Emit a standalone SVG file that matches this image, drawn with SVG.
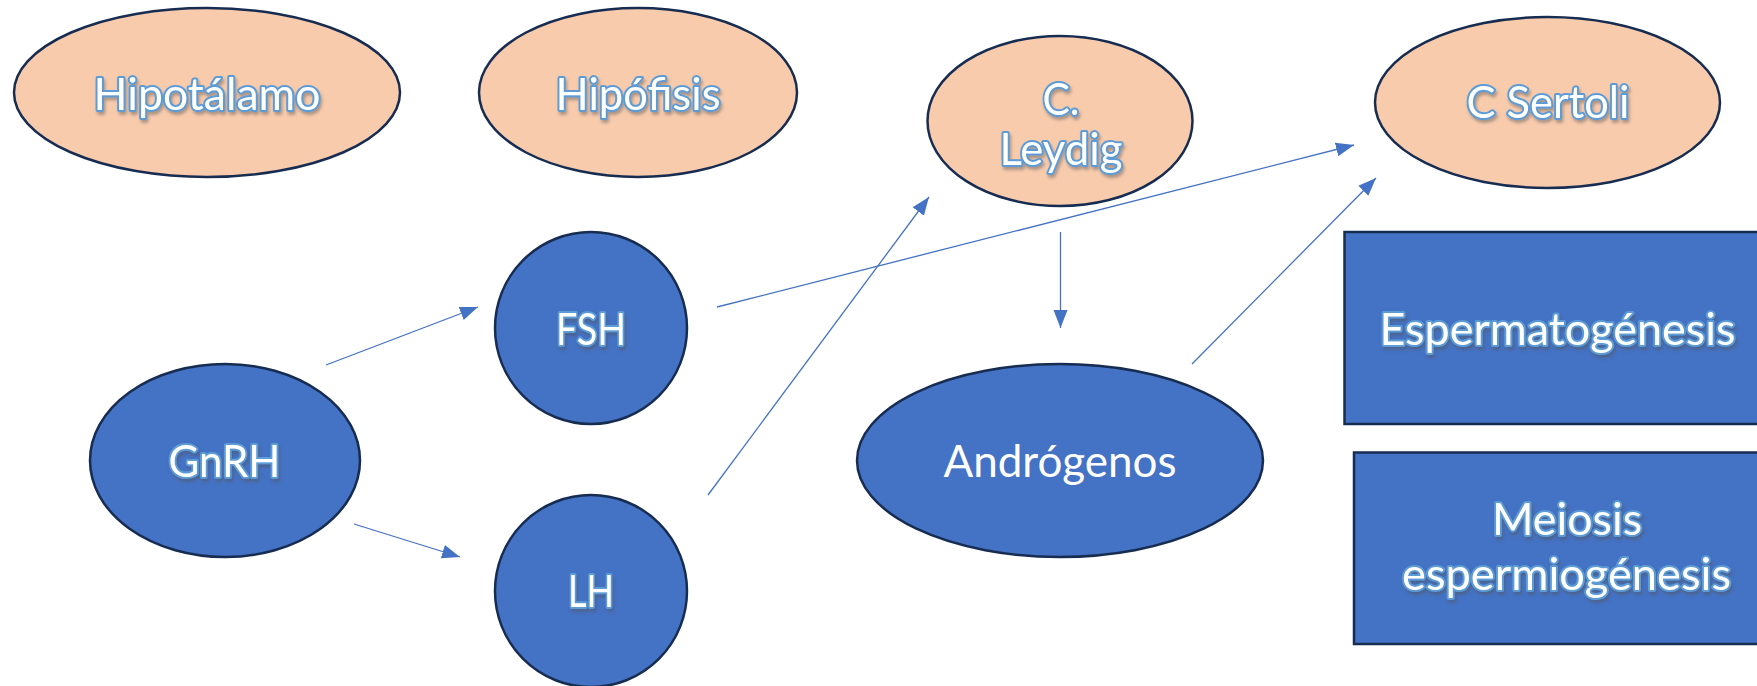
<svg xmlns="http://www.w3.org/2000/svg" width="1757" height="686" viewBox="0 0 1757 686">
<defs>
<style>
.orange{fill:#F8CBAD;stroke:#172C51;stroke-width:2.5}
.blue{fill:#4472C4;stroke:#172C51;stroke-width:2.5}
.lbl{font-family:Lato,"Open Sans","Liberation Sans",sans-serif;font-size:45px;text-anchor:middle;fill:#FFFFFF;stroke:#5B9BD5;stroke-width:4;stroke-linejoin:round;paint-order:stroke;filter:url(#sh)}
.plain{font-family:Lato,"Open Sans","Liberation Sans",sans-serif;font-size:45px;text-anchor:middle;fill:#FFFFFF}
.con{stroke:#4472C4;stroke-width:1.3;fill:none;marker-end:url(#ah)}
</style>
<filter id="sh" x="-10%" y="-30%" width="120%" height="160%">
<feDropShadow dx="1.5" dy="3" stdDeviation="1.8" flood-color="#555555" flood-opacity="0.45"/>
</filter>
<marker id="ah" markerUnits="userSpaceOnUse" markerWidth="20" markerHeight="16" refX="18" refY="7" orient="auto" viewBox="0 0 20 14">
<path d="M0,0 L18,7 L0,14 Z" fill="#4472C4"/>
</marker>
</defs>
<rect width="1757" height="686" fill="#FFFFFF"/>
<g id="connectors">
<line class="con" x1="326" y1="365" x2="478" y2="307"/>
<line class="con" x1="354" y1="524" x2="460" y2="557"/>
<line class="con" x1="717" y1="307" x2="1354" y2="145"/>
<line class="con" x1="708" y1="495" x2="929" y2="197"/>
<line class="con" x1="1060.5" y1="232" x2="1060.5" y2="328"/>
<line class="con" x1="1192" y1="364" x2="1376" y2="178"/>
</g>
<g id="hipotalamo">
<ellipse class="orange" cx="207" cy="92.5" rx="193" ry="84.5"/>
<text class="lbl" x="207" y="110" textLength="227" lengthAdjust="spacingAndGlyphs">Hipotálamo</text>
</g>
<g id="hipofisis">
<ellipse class="orange" cx="638" cy="92.5" rx="159" ry="84.5"/>
<text class="lbl" x="638" y="110" textLength="165" lengthAdjust="spacingAndGlyphs">Hipófisis</text>
</g>
<g id="leydig">
<ellipse class="orange" cx="1060" cy="121" rx="132.5" ry="85"/>
<text class="lbl" x="1061" y="115" textLength="37" lengthAdjust="spacingAndGlyphs">C.</text>
<text class="lbl" x="1061" y="165" textLength="123" lengthAdjust="spacingAndGlyphs">Leydig</text>
</g>
<g id="sertoli">
<ellipse class="orange" cx="1547.5" cy="102.5" rx="172.5" ry="85.5"/>
<text class="lbl" x="1548" y="118" textLength="163" lengthAdjust="spacingAndGlyphs">C Sertoli</text>
</g>
<g id="gnrh">
<ellipse class="blue" cx="225" cy="460.5" rx="135" ry="96.5"/>
<text class="lbl" x="224.5" y="477" textLength="112" lengthAdjust="spacingAndGlyphs">GnRH</text>
</g>
<g id="fsh">
<ellipse class="blue" cx="591" cy="328" rx="96" ry="96"/>
<text class="lbl" x="591" y="345" textLength="70" lengthAdjust="spacingAndGlyphs">FSH</text>
</g>
<g id="lh">
<ellipse class="blue" cx="591" cy="591" rx="96" ry="96"/>
<text class="lbl" x="591" y="607" textLength="46" lengthAdjust="spacingAndGlyphs">LH</text>
</g>
<g id="androgenos">
<ellipse class="blue" cx="1060" cy="460.5" rx="203" ry="96.5"/>
<text class="plain" x="1060" y="477" textLength="233" lengthAdjust="spacingAndGlyphs">Andrógenos</text>
</g>
<g id="espermatogenesis">
<rect class="blue" x="1344.5" y="232" width="440" height="192"/>
<text class="lbl" x="1557.5" y="345" textLength="356" lengthAdjust="spacingAndGlyphs">Espermatogénesis</text>
</g>
<g id="meiosis">
<rect class="blue" x="1354" y="452.5" width="440" height="191.5"/>
<text class="lbl" x="1567" y="535" textLength="150" lengthAdjust="spacingAndGlyphs">Meiosis</text>
<text class="lbl" x="1566.5" y="590" textLength="329" lengthAdjust="spacingAndGlyphs">espermiogénesis</text>
</g>
</svg>
